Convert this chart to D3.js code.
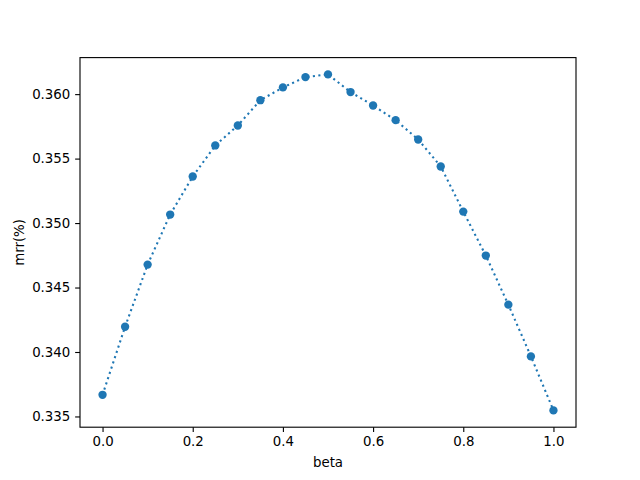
<!DOCTYPE html>
<html><head><meta charset="utf-8">
<script src="https://cdn.jsdelivr.net/npm/d3@7"></script>
<style>body{margin:0;background:#fff}svg{display:block}text{font-family:"DejaVu Sans",sans-serif;}</style>
</head><body>
<script>
const betas = [0.00,0.05,0.10,0.15,0.20,0.25,0.30,0.35,0.40,0.45,0.50,0.55,0.60,0.65,0.70,0.75,0.80,0.85,0.90,0.95,1.00];
const mrr = [0.33668,0.34196,0.34678,0.35066,0.35361,0.35602,0.35757,0.35953,0.36052,0.36132,0.36153,0.36016,0.35912,0.35798,0.35648,0.35439,0.35089,0.34748,0.34367,0.33966,0.33547];
const xTicks = [0.0,0.2,0.4,0.6,0.8,1.0];
const yTicks = [0.335,0.340,0.345,0.350,0.355,0.360];
const xLabel = "beta", yLabel = "mrr(%)";

const W = 640, H = 480;
const L = 80, R = 576, T = 57.6, B = 427.2;
const color = "#1f77b4";
const svg = d3.select("body").append("svg").attr("width", W).attr("height", H);

const xmin = d3.min(betas), xmax = d3.max(betas);
const ymin = d3.min(mrr), ymax = d3.max(mrr);
const xm = (xmax - xmin) * 0.05, ym = (ymax - ymin) * 0.05;
const x = d3.scaleLinear().domain([xmin - xm, xmax + xm]).range([L, R]);
const y = d3.scaleLinear().domain([ymin - ym, ymax + ym]).range([B, T]);

const pts = betas.map((b, i) => [b, mrr[i]]);
const g = svg.append("g");
g.append("path")
  .attr("d", d3.line().x(d => x(d[0])).y(d => y(d[1]))(pts))
  .attr("fill", "none").attr("stroke", color).attr("stroke-width", 2.08)
  .attr("stroke-dasharray", "2.08,3.44");
g.selectAll("circle").data(pts).enter().append("circle")
  .attr("cx", d => x(d[0])).attr("cy", d => y(d[1])).attr("r", 4.17)
  .attr("fill", color);

const xAxis = svg.append("g").attr("transform", `translate(0,${B})`)
  .call(d3.axisBottom(x).tickValues(xTicks).tickFormat(d3.format(".1f")).tickSize(4.86).tickPadding(4.86));
const yAxis = svg.append("g").attr("transform", `translate(${L},0)`)
  .call(d3.axisLeft(y).tickValues(yTicks).tickFormat(d3.format(".3f")).tickSize(4.86).tickPadding(4.86));
[xAxis, yAxis].forEach(a => {
  a.select(".domain").remove();
  a.selectAll(".tick line").attr("stroke", "#000").attr("stroke-width", 1.11);
  a.selectAll(".tick text").attr("fill", "#000").style("font-size", "13.33px").style("font-family", "DejaVu Sans");
});
svg.append("rect").attr("x", L).attr("y", T).attr("width", R - L).attr("height", B - T)
  .attr("fill", "none").attr("stroke", "#000").attr("stroke-width", 1.11);

svg.append("text").attr("x", (L + R) / 2).attr("y", 467).attr("text-anchor", "middle")
  .style("font-size", "13.33px").text(xLabel);
svg.append("text").attr("transform", `translate(24,${(T + B) / 2}) rotate(-90)`)
  .attr("text-anchor", "middle").style("font-size", "13.33px").text(yLabel);
</script>
</body></html>
